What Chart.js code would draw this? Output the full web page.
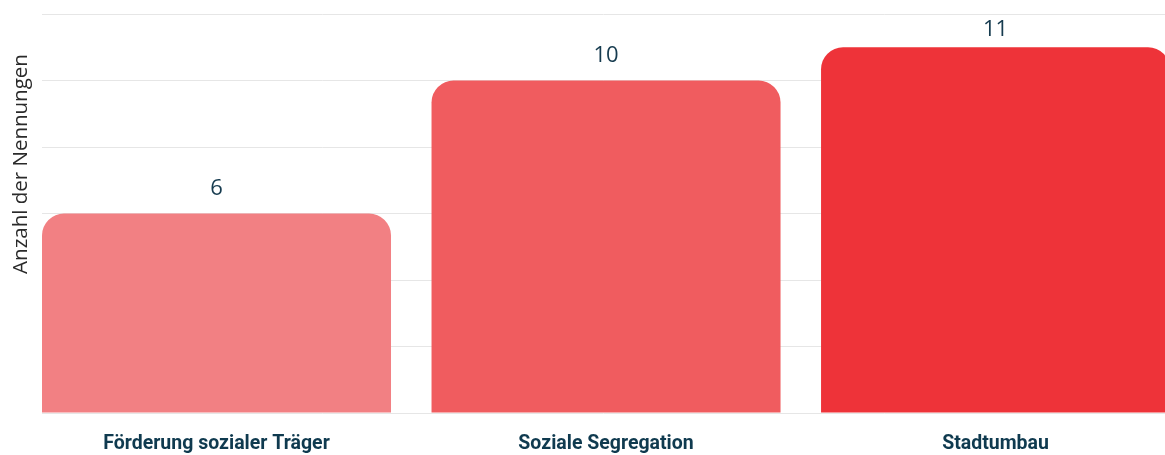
<!DOCTYPE html>
<html>
<head>
<meta charset="utf-8">
<script src="https://cdn.jsdelivr.net/npm/chart.js@4/dist/chart.umd.min.js"></script>
<style>
  html, body { margin: 0; padding: 0; background: #ffffff; overflow: hidden; }
  #wrap { position: relative; width: 1165px; height: 455px; }
</style>
</head>
<body>
<div id="wrap"><canvas id="c" width="1165" height="455"></canvas></div>
<script>
const categories = ["Förderung sozialer Träger", "Soziale Segregation", "Stadtumbau"];
const values = [6, 10, 11];
const barColors = ["#f28083", "#f05c5f", "#ee3339"];
const yTicks = [0, 2, 4, 6, 8, 10, 12];
const yTitle = "Anzahl der Nennungen";

const labelPlugin = {
  id: 'valueLabels',
  afterDatasetsDraw(chart) {
    const ctx = chart.ctx;
    const meta = chart.getDatasetMeta(0);
    ctx.save();
    ctx.font = '400 22px "Open Sans"';
    ctx.fillStyle = '#163b4f';
    ctx.textAlign = 'center';
    ctx.textBaseline = 'middle';
    meta.data.forEach((bar, i) => {
      const y = Math.max(bar.y - 25, chart.chartArea.top + 15.5);
      ctx.fillText(String(values[i]), bar.x, y);
    });
    ctx.restore();
  }
};

const titlePlugin = {
  id: 'yTitle',
  afterDraw(chart) {
    const ctx = chart.ctx;
    ctx.save();
    ctx.font = '400 20.5px "Open Sans"';
    ctx.fillStyle = '#2a2a2a';
    ctx.textAlign = 'center';
    ctx.textBaseline = 'alphabetic';
    ctx.translate(27, 164);
    ctx.rotate(-Math.PI / 2);
    ctx.fillText(yTitle, 0, 0);
    ctx.restore();
  }
};

new Chart(document.getElementById('c'), {
  type: 'bar',
  data: {
    datasets: [{
      data: values.map((v, i) => ({ x: i, y: v })),
      backgroundColor: barColors,
      borderWidth: 0,
      borderRadius: 22,
      borderSkipped: 'bottom',
      categoryPercentage: 1,
      barPercentage: 0.896
    }]
  },
  options: {
    responsive: false,
    animation: false,
    devicePixelRatio: 1,
    layout: { padding: { left: 42, top: 14, right: 0, bottom: 2 } },
    plugins: { legend: { display: false }, tooltip: { enabled: false } },
    scales: {
      x: {
        type: 'linear',
        offset: false,
        min: -0.448,
        max: 2.435,
        grid: { display: false, drawTicks: false, offset: false },
        border: { display: false },
        afterFit: (scale) => { scale.height = 40; },
        ticks: {
          stepSize: 1,
          includeBounds: false,
          padding: 19,
          color: '#0f3a4f',
          font: { family: 'Roboto', size: 19.5, weight: 'bold' },
          maxRotation: 0,
          autoSkip: false,
          callback: (v) => Number.isInteger(v) ? categories[v] : null
        }
      },
      y: {
        min: yTicks[0],
        max: yTicks[yTicks.length - 1],
        afterBuildTicks: (scale) => { scale.ticks = yTicks.map(v => ({ value: v })); },
        grid: { color: '#e6e6e6', lineWidth: 1, drawTicks: false },
        border: { display: false },
        ticks: { display: false }
      }
    }
  },
  plugins: [labelPlugin, titlePlugin]
});
</script>
</body>
</html>
